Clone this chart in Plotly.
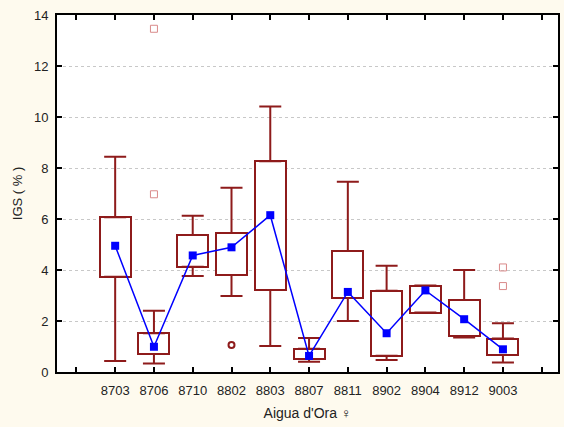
import plotly.graph_objects as go
import numpy as np

categories = ["8703", "8706", "8710", "8802", "8803", "8807", "8811", "8902", "8904", "8912", "9003"]
whisker_low = [0.43, 0.33, 3.76, 2.98, 1.02, 0.40, 2.00, 0.47, 2.33, 1.35, 0.37]
box_low     = [3.74, 0.71, 4.13, 3.80, 3.22, 0.51, 2.90, 0.64, 2.33, 1.41, 0.67]
box_high    = [6.07, 1.52, 5.37, 5.45, 8.26, 0.91, 4.75, 3.19, 3.39, 2.82, 1.31]
whisker_high= [8.44, 2.40, 6.13, 7.23, 10.41, 1.33, 7.46, 4.17, 3.39, 4.00, 1.91]
means       = [4.95, 0.99, 4.57, 4.89, 6.15, 0.63, 3.14, 1.52, 3.20, 2.07, 0.89]

outlier_cat = ["8802"]
outlier_val = [1.06]
extreme_cat = ["8706", "8706", "9003", "9003"]
extreme_val = [13.46, 6.97, 4.10, 3.37]

tick_labels = [""] + categories + [""]

RED = "#8E1B1B"
pos = np.arange(1, len(categories) + 1)
idx = {c: i + 1 for i, c in enumerate(categories)}

bl = np.array(box_low); bh = np.array(box_high)
wl = np.array(whisker_low); wh = np.array(whisker_high)

fig = go.Figure()
fig.add_trace(go.Bar(
    x=pos, y=bh - bl, base=bl, width=0.8,
    marker=dict(color="white", line=dict(color=RED, width=2)),
    hoverinfo="skip", showlegend=False,
))
# upper whiskers
fig.add_trace(go.Scatter(
    x=pos, y=bh, mode="markers", marker=dict(size=1, opacity=0),
    error_y=dict(type="data", symmetric=False, array=wh - bh, arrayminus=np.zeros(len(pos)),
                 width=11, thickness=2, color=RED),
    showlegend=False, hoverinfo="skip",
))
# lower whiskers
fig.add_trace(go.Scatter(
    x=pos, y=bl, mode="markers", marker=dict(size=1, opacity=0),
    error_y=dict(type="data", symmetric=False, array=np.zeros(len(pos)), arrayminus=bl - wl,
                 width=11, thickness=2, color=RED),
    showlegend=False, hoverinfo="skip",
))
# outliers
fig.add_trace(go.Scatter(
    x=[idx[c] for c in outlier_cat], y=outlier_val, mode="markers",
    marker=dict(symbol="circle-open", size=6, color=RED, line=dict(width=2, color=RED)),
    showlegend=False,
))
# extremes
fig.add_trace(go.Scatter(
    x=[idx[c] for c in extreme_cat], y=extreme_val, mode="markers",
    marker=dict(symbol="square-open", size=7, color="#D98A8A", line=dict(width=1, color="#D98A8A")),
    showlegend=False,
))
# means
fig.add_trace(go.Scatter(
    x=pos, y=means, mode="lines+markers",
    line=dict(color="#0000FF", width=1.5),
    marker=dict(symbol="square", size=8, color="#0000FF"),
    showlegend=False,
))

fig.update_layout(
    width=564, height=427,
    margin=dict(l=57, r=4, t=15, b=55),
    paper_bgcolor="#FEFAEE", plot_bgcolor="white",
    font=dict(family="Liberation Sans, Arial, sans-serif", size=13, color="#222222"),
    bargap=0,
)
fig.update_xaxes(
    range=[-0.5, 12.42], tickmode="array", tickvals=list(range(len(tick_labels))), ticktext=tick_labels,
    ticks="inside", ticklen=5, tickwidth=1.5, tickcolor="black", tickfont=dict(size=13),
    showline=True, linecolor="black", linewidth=2, mirror="ticks",
    showgrid=False, zeroline=False, ticklabelstandoff=5,
    title=dict(text="Aigua d'Ora ♀", font=dict(size=14), standoff=12),
)
fig.update_yaxes(
    range=[0, 14], dtick=2,
    ticks="inside", ticklen=5, tickwidth=1.5, tickcolor="black", tickfont=dict(size=13),
    showline=True, linecolor="black", linewidth=2, mirror="ticks",
    showgrid=True, gridcolor="#C8C8C8", griddash="dot", gridwidth=1, zeroline=False,
    ticklabelstandoff=4,
    title=dict(text="IGS ( % )", font=dict(size=13), standoff=8),
)
fig.write_html("out.html", config={"displayModeBar": False},
               post_script="document.body.style.margin='0';document.body.style.overflow='hidden';")
